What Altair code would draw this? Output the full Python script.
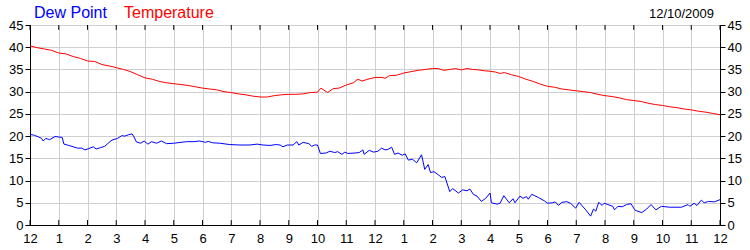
import altair as alt
import pandas as pd

# ---------------- data ----------------
series_names = ["Dew Point", "Temperature"]
series_colors = ["#0000ff", "#ff0000"]
date_label = "12/10/2009"

hour_ticks = list(range(25))
y_ticks = list(range(0, 50, 5))

temp_hours = [0, 0.25, 0.5, 0.75, 1.0, 1.25, 1.5, 1.75, 2.0, 2.25, 2.5, 2.75, 3.0, 3.25, 3.5, 3.75,
              4.0, 4.25, 4.5, 4.75, 5.0, 5.25, 5.5, 5.75, 6.0, 6.25, 6.5, 6.75, 7.0, 7.25, 7.5, 7.75,
              8.0, 8.25, 8.5, 8.75, 9.0, 9.25, 9.5, 9.75, 10.0, 10.12, 10.35, 10.55, 10.75, 11.0,
              11.25, 11.4, 11.55, 11.75, 12.0, 12.25, 12.35, 12.5, 12.75, 13.0, 13.25, 13.5, 13.75,
              14.0, 14.2, 14.4, 14.6, 14.8, 15.0, 15.2, 15.4, 15.6, 15.8, 16.0, 16.2, 16.35, 16.5,
              16.75, 17.0, 17.25, 17.5, 17.75, 18.0, 18.25, 18.5, 18.75, 19.0, 19.25, 19.5, 19.75,
              20.0, 20.25, 20.5, 20.75, 21.0, 21.25, 21.5, 21.75, 22.0, 22.25, 22.5, 22.75, 23.0,
              23.25, 23.5, 23.75, 24.0]
temp_values = [40.3, 39.9, 39.6, 39.3, 38.7, 38.5, 37.9, 37.5, 36.9, 36.8, 36.1, 35.8, 35.4, 35.0, 34.5, 33.8,
               33.1, 32.8, 32.3, 32.0, 31.8, 31.6, 31.4, 31.1, 30.8, 30.6, 30.4, 30.0, 29.8, 29.5, 29.3, 29.0,
               28.8, 28.8, 29.1, 29.3, 29.4, 29.4, 29.5, 29.8, 29.9, 30.8, 29.8, 30.7, 30.8, 31.5,
               32.0, 32.8, 32.4, 32.8, 33.2, 33.2, 33.0, 33.6, 33.7, 34.2, 34.5, 34.8, 35.0,
               35.2, 35.2, 34.8, 35.0, 35.2, 34.9, 35.2, 35.0, 34.9, 34.7, 34.6, 34.4, 34.1, 34.3,
               33.8, 33.4, 32.8, 32.3, 31.7, 31.2, 31.0, 30.6, 30.4, 30.2, 30.0, 29.8, 29.4,
               29.1, 28.9, 28.6, 28.2, 28.0, 27.8, 27.4, 27.1, 26.9, 26.6, 26.4, 26.1, 25.9,
               25.6, 25.4, 25.1, 24.8]

dew_hours = [0.0, 0.15, 0.3, 0.4, 0.46, 0.55, 0.68, 0.87, 1.0, 1.12, 1.18, 1.35, 1.5, 1.65, 1.8, 1.91,
             2.05, 2.2, 2.3, 2.45, 2.6, 2.7, 2.85, 3.05, 3.19, 3.3, 3.42, 3.55, 3.62, 3.7, 3.85, 3.97,
             4.1, 4.23, 4.4, 4.57, 4.75, 5.0, 5.25, 5.45, 5.7, 5.9, 6.1, 6.2, 6.35, 6.6, 6.95, 7.3,
             7.65, 7.9, 8.1, 8.35, 8.55, 8.7, 8.8, 8.95, 9.15, 9.28, 9.35, 9.5, 9.7, 9.8, 9.9, 10.0,
             10.1, 10.3, 10.43, 10.6, 10.7, 10.85, 10.95, 11.05, 11.3, 11.45, 11.58, 11.62, 11.8,
             11.95, 12.1, 12.23, 12.35, 12.45, 12.58, 12.68, 12.8, 12.95, 13.05, 13.16, 13.3, 13.45,
             13.62, 13.73, 13.85, 13.93, 14.05, 14.2, 14.32, 14.43, 14.6, 14.7, 14.9, 15.05, 15.2,
             15.3, 15.42, 15.55, 15.7, 15.85, 16.0, 16.05, 16.25, 16.35, 16.48, 16.67, 16.8, 16.87,
             17.04, 17.15, 17.27, 17.33, 17.45, 17.68, 17.9, 18.0, 18.17, 18.27, 18.38, 18.5, 18.67,
             18.8, 18.98, 19.1, 19.33, 19.5, 19.6, 19.68, 19.78, 19.9, 19.97, 20.1, 20.27, 20.33,
             20.45, 20.6, 20.75, 20.9, 21.05, 21.28, 21.45, 21.6, 21.77, 21.96, 22.25, 22.66, 22.89,
             22.95, 23.1, 23.2, 23.35, 23.45, 23.6, 23.8, 24.0]
dew_values = [20.4, 20.2, 19.8, 19.5, 18.9, 19.5, 19.2, 19.9, 19.8, 19.7, 18.2, 17.9, 17.6, 17.3, 17.3, 16.9,
              17.2, 17.6, 17.1, 17.4, 17.7, 18.3, 19.1, 19.5, 20.1, 20.0, 20.3, 20.5, 19.8, 18.7, 18.4, 18.9,
              18.2, 18.75, 18.4, 18.9, 18.3, 18.4, 18.6, 18.75, 18.75, 18.9, 18.6, 18.8, 18.5, 18.4, 18.1, 18.0,
              18.0, 18.2, 18.0, 17.9, 18.1, 18.0, 17.6, 18.0, 18.0, 18.75, 18.0, 18.6, 18.3, 17.7, 18.0, 18.0,
              16.1, 16.2, 16.6, 16.3, 16.5, 15.9, 16.4, 16.1, 16.2, 16.3, 16.9, 15.9, 16.8,
              16.4, 16.6, 17.3, 16.9, 17.0, 17.5, 15.9, 16.2, 15.7, 16.0, 14.6, 14.8, 14.0,
              15.8, 12.5, 13.6, 11.8, 12.0, 11.3, 10.7, 10.9, 7.5, 8.2, 7.2, 7.9, 7.7,
              8.1, 6.9, 6.5, 5.3, 6.0, 7.2, 5.0, 4.7, 4.9, 6.6, 5.0, 5.9, 5.0,
              6.5, 6.0, 6.4, 5.8, 6.9, 6.2, 5.4, 4.9, 5.0, 5.2, 4.4, 5.1, 5.25,
              4.9, 3.8, 5.1, 3.4, 2.0, 3.6, 3.1, 5.1, 4.4, 4.9, 4.6, 4.2, 3.4,
              4.2, 4.1, 4.6, 4.8, 3.3, 2.8, 3.6, 4.6, 3.4, 4.2, 4.0, 4.0, 4.6,
              4.2, 4.9, 4.4, 5.6, 5.0, 5.3, 5.2, 5.7]

# ---------------- tables ----------------
lines_df = pd.concat([
    pd.DataFrame({"hour": dew_hours, "value": dew_values, "series": series_names[0]}),
    pd.DataFrame({"hour": temp_hours, "value": temp_values, "series": series_names[1]}),
])
ticks_df = pd.DataFrame({
    "hour": hour_ticks * 2,
    "y0": [0.0] * len(hour_ticks) + [45.0] * len(hour_ticks),
    "y1": [1.1] * len(hour_ticks) + [43.9] * len(hour_ticks),
})
legend_df = pd.DataFrame({"label": series_names, "color": series_colors})

FONT = "Liberation Sans"
x_scale = alt.Scale(domain=[0, 24], nice=False, zero=False)
label_expr = "datum.value % 12 == 0 ? '12' : '' + (datum.value % 12)"
x_axis = alt.Axis(values=hour_ticks, labelExpr=label_expr, grid=True, ticks=False,
                  title=None, labelPadding=7, labelFlush=False, labelAngle=0)

lines = alt.Chart(lines_df).mark_line(strokeWidth=1).encode(
    x=alt.X("hour:Q", scale=x_scale, axis=x_axis),
    y=alt.Y("value:Q", scale=alt.Scale(domain=[0, 45], nice=False),
            axis=alt.Axis(values=y_ticks, grid=True, tickSize=5, title=None, labelPadding=2)),
    color=alt.Color("series:N", scale=alt.Scale(domain=series_names, range=series_colors), legend=None),
)

ticks = alt.Chart(ticks_df).mark_rule(color="black", strokeWidth=1).encode(
    x=alt.X("hour:Q", scale=x_scale, axis=x_axis),
    y=alt.Y("y0:Q", scale=alt.Scale(domain=[0, 45], nice=False),
            axis=alt.Axis(orient="right", values=y_ticks, grid=False, tickSize=5, title=None, labelPadding=2)),
    y2="y1:Q",
)

dew_title = alt.Chart(legend_df.iloc[[0]]).mark_text(
    align="left", baseline="alphabetic", font=FONT, fontSize=16, color=series_colors[0]
).encode(x=alt.value(4), y=alt.value(-7), text="label:N")

temp_title = alt.Chart(legend_df.iloc[[1]]).mark_text(
    align="left", baseline="alphabetic", font=FONT, fontSize=16, color=series_colors[1]
).encode(x=alt.value(94), y=alt.value(-7), text="label:N")

date_text = alt.Chart(pd.DataFrame({"label": [date_label]})).mark_text(
    align="right", baseline="alphabetic", font=FONT, fontSize=13, color="black"
).encode(x=alt.value(684), y=alt.value(-7), text="label:N")

chart = alt.layer(lines, ticks, dew_title, temp_title, date_text).resolve_scale(
    y="independent"
).properties(
    width=690, height=200,
    autosize=alt.AutoSizeParams(type="none"),
    padding={"left": 30, "top": 25, "right": 30, "bottom": 25},
).configure_view(
    stroke="black", strokeWidth=1
).configure_axis(
    domainColor="black", tickColor="black", gridColor="#cfcfcf", gridWidth=1,
    labelFont=FONT, labelFontSize=13, labelColor="black", domainWidth=1,
)

chart.save("out.html", embed_options={"renderer": "svg", "actions": False})
